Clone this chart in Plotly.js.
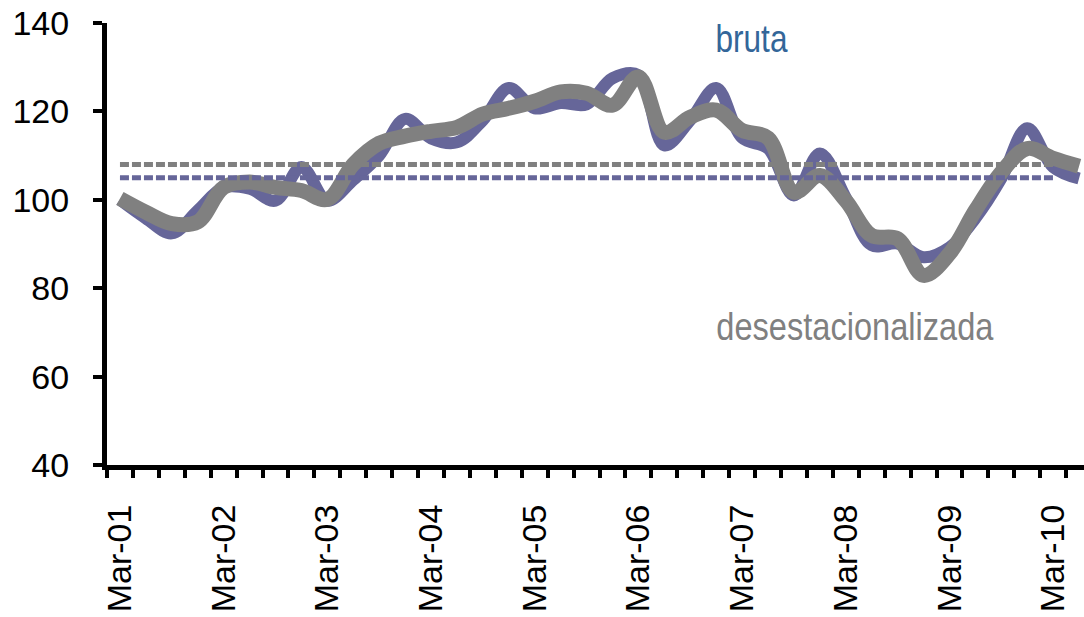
<!DOCTYPE html>
<html>
<head>
<meta charset="utf-8">
<script src="https://cdn.plot.ly/plotly-3.0.1.min.js"></script>
<style>html,body{margin:0;padding:0;background:#fff;}#chart{width:1084px;height:617px;}</style>
</head>
<body>
<div id="chart"></div>
<script>
const categories = ["Mar-01","Jun-01","Sep-01","Dec-01","Mar-02","Jun-02","Sep-02","Dec-02",
  "Mar-03","Jun-03","Sep-03","Dec-03","Mar-04","Jun-04","Sep-04","Dec-04",
  "Mar-05","Jun-05","Sep-05","Dec-05","Mar-06","Jun-06","Sep-06","Dec-06",
  "Mar-07","Jun-07","Sep-07","Dec-07","Mar-08","Jun-08","Sep-08","Dec-08",
  "Mar-09","Jun-09","Sep-09","Dec-09","Mar-10","Jun-10"];
const bruta = [100, 95.8, 92.4, 97.6, 102.8, 102.5, 99.8, 107.4,
  99.8, 104.5, 110, 118.3, 113.9, 113, 118, 125.3,
  120.7, 121.9, 121.6, 127.5, 128.2, 112.3, 118, 125.3,
  114, 111.6, 101, 110.5, 100.5, 89.7, 90.1, 87,
  89.2, 95.8, 104.8, 116.2, 107.4, 104.8];
const desestacionalizada = [100.3, 97.2, 94.6, 95, 102.8, 104, 102.8, 102.1,
  100.1, 108, 112.8, 114.4, 115.5, 116.4, 119.4, 120.7,
  122.3, 124.4, 124.1, 121.4, 127.8, 115.3, 118.7, 120.3,
  115.7, 114, 101.7, 105.5, 99.8, 91.9, 91.2, 82.9,
  87.8, 97.6, 106.2, 111.6, 109.4, 107.6];
const promedioBruta = 105;
const promedioDesest = 108;
const lastAvgLabel = "Mar-10";
const labelCats = ["Mar-01","Mar-02","Mar-03","Mar-04","Mar-05","Mar-06","Mar-07","Mar-08","Mar-09","Mar-10"];

const idx = categories.map((c, i) => i);
const avgEnd = categories.indexOf(lastAvgLabel);
const avgX = [0, avgEnd];

const sans = 'Liberation Sans, Arial, sans-serif';

const traces = [
  {x: idx, y: bruta, mode: 'lines', line: {color: '#666699', width: 12, shape: 'spline', smoothing: 1}, hoverinfo: 'skip'},
  {x: idx, y: desestacionalizada, mode: 'lines', line: {color: '#808080', width: 15, shape: 'spline', smoothing: 1}, hoverinfo: 'skip'},
  {x: avgX, y: [promedioDesest, promedioDesest], mode: 'lines', line: {color: '#808080', width: 5, dash: '9px,3px'}, hoverinfo: 'skip'},
  {x: avgX, y: [promedioBruta, promedioBruta], mode: 'lines', line: {color: '#666699', width: 5, dash: '9px,3px'}, hoverinfo: 'skip'}
];

const layout = {
  width: 1084, height: 617,
  margin: {l: 107, r: 0, t: 23, b: 152, pad: 0},
  paper_bgcolor: '#ffffff', plot_bgcolor: '#ffffff',
  showlegend: false,
  font: {family: sans, color: '#000000'},
  xaxis: {
    type: 'linear',
    range: [-0.5, 37.19],
    showgrid: false, zeroline: false,
    showline: true, linecolor: '#000000', linewidth: 5,
    tickvals: labelCats.map(c => categories.indexOf(c)),
    ticktext: labelCats,
    ticks: '', tickangle: -90,
    tickfont: {size: 34, color: '#000000', family: sans},
    ticklabelstandoff: 21,
    minor: {ticks: 'outside', tick0: -0.5, dtick: 1, ticklen: 8, tickwidth: 4, tickcolor: '#000000', showgrid: false}
  },
  yaxis: {
    range: [40, 140],
    dtick: 20, tick0: 40,
    showgrid: false, zeroline: false,
    showline: true, linecolor: '#000000', linewidth: 5,
    ticks: 'outside', ticklen: 9, tickwidth: 4, tickcolor: '#000000',
    tickfont: {size: 34, color: '#000000', family: sans},
    ticklabelstandoff: 17
  },
  annotations: [
    {text: 'bruta', x: 24.38, y: 136.4, xref: 'x', yref: 'y', xanchor: 'center', yanchor: 'middle', showarrow: false,
     font: {family: sans, size: 39, color: '#336699'}},
    {text: 'desestacionalizada', x: 28.34, y: 71.4, xref: 'x', yref: 'y', xanchor: 'center', yanchor: 'middle', showarrow: false,
     font: {family: sans, size: 39, color: '#808080'}}
  ]
};

const targetWidths = {'bruta': 72, 'desestacionalizada': 277};

Plotly.newPlot('chart', traces, layout, {staticPlot: true, displayModeBar: false}).then(gd => {
  gd.querySelectorAll('.annotation-text').forEach(t => {
    const w = targetWidths[t.textContent];
    if (w) {
      t.setAttribute('textLength', w);
      t.setAttribute('lengthAdjust', 'spacingAndGlyphs');
    }
  });
});
</script>
</body>
</html>
